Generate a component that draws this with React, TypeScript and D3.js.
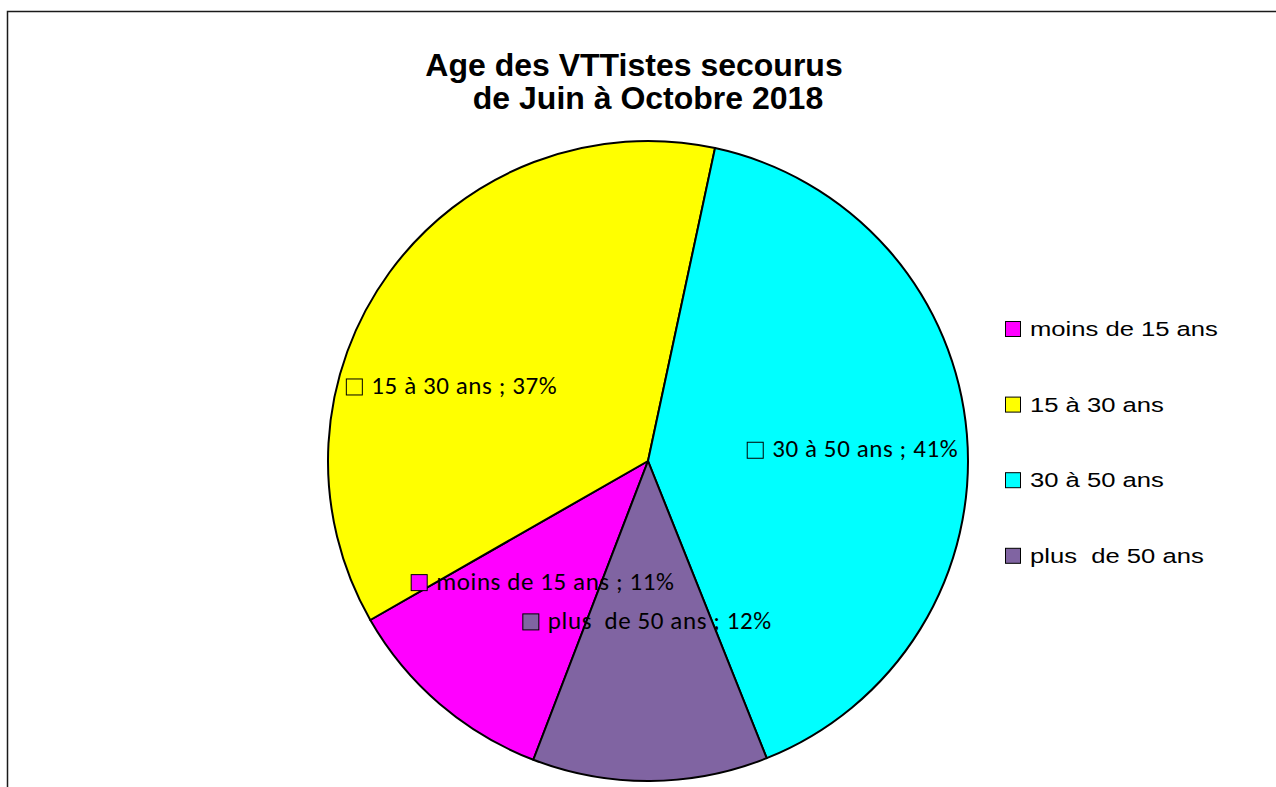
import { useRef, useEffect } from 'react';
import * as d3 from 'd3';

const categories = ['moins de 15 ans', '15 à 30 ans', '30 à 50 ans', 'plus  de 50 ans'];
const values = [11, 37, 41, 12];
const colors = ['#FF00FF', '#FFFF00', '#00FFFF', '#8064A2'];
const titleLines = ['Age des VTTistes secourus', 'de Juin à Octobre 2018'];

export default function App() {
  const svgRef = useRef<SVGSVGElement>(null);

  useEffect(() => {
    const svg = d3.select(svgRef.current);
    svg.selectAll('*').remove();

    const width = 1276;
    const height = 787;
    const cx = 648, cy = 461, r = 320;
    const start = (201 * Math.PI) / 180;

    // chart frame (only left and top edges are visible)
    svg.append('path')
      .attr('d', `M7.5,${height}V11.5H${width}`)
      .attr('fill', 'none').attr('stroke', '#1a1a1a').attr('stroke-width', 1.5);

    // Title
    const titleX = [634, 648];
    const titleY = [76, 109];
    titleLines.forEach((t, i) => {
      svg.append('text')
        .attr('x', titleX[i]).attr('y', titleY[i])
        .attr('text-anchor', 'middle')
        .attr('font-family', '"Liberation Sans", Arial, sans-serif')
        .attr('font-weight', 'bold').attr('font-size', 32)
        .attr('fill', '#000')
        .text(t);
    });

    const g = svg.append('g').attr('transform', `translate(${cx},${cy})`);

    const pie = d3.pie<number>().sort(null).startAngle(start).endAngle(start + 2 * Math.PI);
    const arcs = pie(values);
    const arc = d3.arc<d3.PieArcDatum<number>>().innerRadius(0).outerRadius(r);
    const labelArc = d3.arc<d3.PieArcDatum<number>>().innerRadius(r * 0.62).outerRadius(r * 0.62);

    g.selectAll('path.slice').data(arcs).join('path')
      .attr('class', 'slice')
      .attr('d', arc)
      .attr('fill', (_, i) => colors[i])
      .attr('stroke', '#000').attr('stroke-width', 2)
      .attr('stroke-linejoin', 'round');

    // Data labels (Excel "best fit" placement, nudged from centroid)
    const total = d3.sum(values);
    const nudge: [number, number][] = [[24, -29], [-36, 43], [7, 6], [-2, -37.5]];
    arcs.forEach((d, i) => {
      const [lx, ly] = labelArc.centroid(d);
      const lg = g.append('g').attr('transform', `translate(${lx + nudge[i][0]},${ly + nudge[i][1]})`);
      const txt = lg.append('text')
        .attr('y', 7)
        .attr('font-family', 'Carlito, Lato, "Open Sans", sans-serif')
        .attr('font-size', 25)
        .attr('letter-spacing', 0.6)
        .attr('fill', '#000')
        .style('white-space', 'pre')
        .text(`${categories[i]} ; ${Math.round((values[i] / total) * 100)}%`);
      const w = (txt.node() as SVGTextElement).getComputedTextLength();
      const full = 16 + 9 + w;
      lg.append('rect')
        .attr('x', -full / 2).attr('y', -8)
        .attr('width', 16).attr('height', 16)
        .attr('fill', colors[i]).attr('stroke', '#000').attr('stroke-width', 1);
      txt.attr('x', -full / 2 + 25);
    });

    // Legend
    const legend = svg.append('g').attr('transform', 'translate(1005,321)');
    categories.forEach((c, i) => {
      const row = legend.append('g').attr('transform', `translate(0,${i * 75.6})`);
      row.append('rect')
        .attr('x', 0.5).attr('y', 0.5).attr('width', 15).attr('height', 15)
        .attr('fill', colors[i]).attr('stroke', '#000').attr('stroke-width', 1);
      row.append('text')
        .attr('transform', 'translate(25,15) scale(1.25,1)')
        .attr('font-family', '"Liberation Sans", Arial, sans-serif')
        .attr('font-size', 20.5)
        .attr('fill', '#000')
        .style('white-space', 'pre')
        .text(c);
    });
  }, []);

  return (
    <svg ref={svgRef} width={1276} height={787}
      style={{ position: 'absolute', left: 0, top: 0, background: '#fff', display: 'block' }} />
  );
}
